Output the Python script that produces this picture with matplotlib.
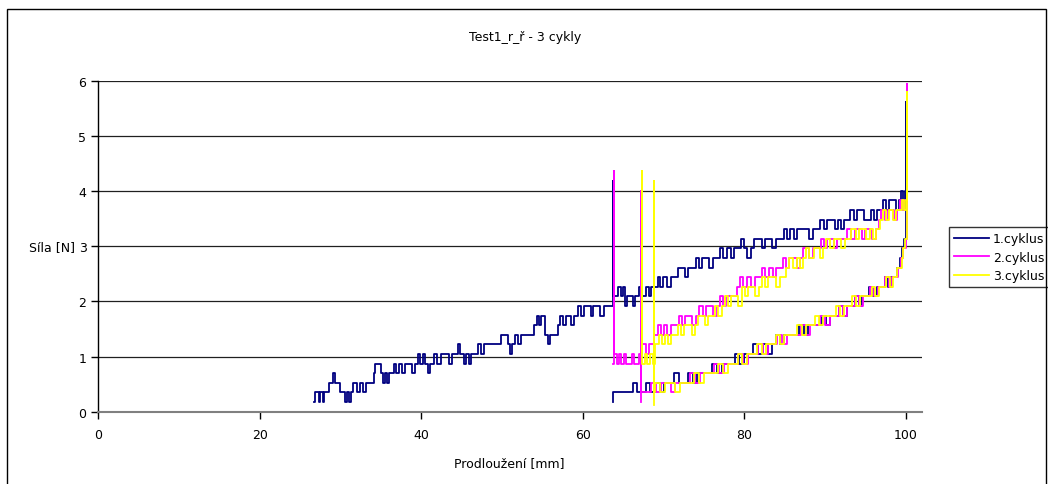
import matplotlib
matplotlib.use("Agg")
import matplotlib.pyplot as plt
from matplotlib.patches import Rectangle

# 1.cyklus: zatěžování (26.7 -> 100), pak odlehčení (100 -> 63.8)
c1_x = [26.7, 26.9, 27.2, 27.3, 27.5, 27.8, 27.9, 28.4, 28.6, 29.0, 29.1, 29.3, 29.8, 30.0,
        30.4, 30.6, 30.8, 31.0, 31.3, 31.6, 32.0, 32.4, 32.8, 33.2, 33.8, 34.1, 34.3, 34.8,
        35.0, 35.3, 35.5, 35.8, 36.0, 36.4, 36.6, 36.9, 37.2, 37.6, 38.0, 38.6, 38.9, 39.2,
        39.6, 39.9, 40.2, 40.5, 40.8, 41.1, 41.6, 42.0, 42.4, 43.0, 43.4, 43.8, 44.2, 44.5,
        44.8, 45.3, 45.6, 45.9, 46.2, 46.6, 47.0, 47.4, 47.8, 48.5, 49.0, 49.6, 49.9, 50.4,
        50.7, 51.0, 51.3, 51.6, 52.0, 52.4, 53.0, 53.6, 54.0, 54.3, 54.6, 54.9, 55.3, 55.7,
        56.0, 56.5, 56.9, 57.2, 57.6, 57.9, 58.3, 58.6, 58.9, 59.4, 59.8, 60.2, 60.6, 61.0,
        61.3, 61.8, 62.2, 62.6, 63.1, 63.5, 63.7, 63.8,
        64.2, 64.4, 64.7, 65.0, 65.2, 65.5, 65.9, 66.2, 66.5, 66.8, 67.0, 67.4, 67.8, 68.2,
        68.5, 68.9, 69.3, 69.6, 70.0, 70.5, 70.9, 71.4, 71.8, 72.3, 72.7, 73.1, 73.6, 74.0,
        74.4, 74.8, 75.3, 75.7, 76.1, 76.6, 77.0, 77.4, 77.9, 78.4, 78.8, 79.3, 79.6, 80.0,
        80.4, 80.8, 81.2, 81.7, 82.2, 82.6, 83.1, 83.5, 84.0, 84.5, 84.9, 85.3, 85.7, 86.2,
        86.6, 87.0, 87.5, 88.0, 88.5, 89.1, 89.4, 89.9, 90.3, 90.8, 91.2, 91.6, 92.0, 92.4,
        92.8, 93.1, 93.6, 94.0, 94.5, 94.9, 95.3, 95.7, 96.1, 96.5, 96.9, 97.2, 97.6, 98.0,
        98.5, 98.8, 99.2, 99.4, 99.7, 99.9, 100.0, 100.05, 100.05,
        99.8, 99.5, 99.3, 99.0, 98.6, 98.2, 97.8, 97.4, 96.9, 96.5, 96.0, 95.5, 95.0, 94.6,
        94.2, 93.7, 93.2, 92.8, 92.3, 91.8, 91.2, 90.7, 90.2, 89.6, 89.0, 88.4, 87.9, 87.4,
        86.8, 86.2, 85.6, 85.0, 84.5, 84.0, 83.4, 82.9, 82.3, 81.7, 81.1, 80.6, 80.0, 79.4,
        78.9, 78.3, 77.7, 77.2, 76.6, 76.0, 75.4, 74.8, 74.2, 73.7, 73.1, 72.5, 71.9, 71.3,
        70.7, 70.1, 69.6, 69.0, 68.4, 67.8, 67.2, 66.7, 66.2, 65.5, 64.8, 64.1, 63.9, 63.8]
c1_y = [0.17, 0.35, 0.35, 0.17, 0.35, 0.17, 0.35, 0.35, 0.52, 0.52, 0.70, 0.52, 0.52, 0.35,
        0.35, 0.17, 0.35, 0.17, 0.35, 0.52, 0.35, 0.52, 0.35, 0.52, 0.52, 0.70, 0.87, 0.87,
        0.70, 0.52, 0.70, 0.52, 0.70, 0.70, 0.87, 0.70, 0.87, 0.70, 0.87, 0.87, 0.70, 0.87,
        1.04, 0.87, 1.04, 0.87, 0.70, 0.87, 1.04, 0.87, 1.04, 1.04, 0.87, 1.04, 1.04, 1.22,
        1.04, 0.87, 1.04, 0.87, 1.04, 1.04, 1.22, 1.04, 1.22, 1.22, 1.22, 1.22, 1.39, 1.39,
        1.22, 1.04, 1.22, 1.39, 1.22, 1.39, 1.39, 1.39, 1.57, 1.74, 1.57, 1.74, 1.39, 1.22,
        1.39, 1.39, 1.57, 1.74, 1.57, 1.74, 1.74, 1.57, 1.74, 1.91, 1.74, 1.91, 1.91, 1.74,
        1.91, 1.91, 1.74, 1.91, 1.91, 1.91, 4.19, 2.09,
        2.09, 2.26, 2.09, 2.26, 1.91, 2.09, 2.09, 1.91, 2.09, 2.09, 2.26, 2.09, 2.26, 2.09,
        2.26, 2.26, 2.44, 2.26, 2.44, 2.26, 2.44, 2.44, 2.61, 2.61, 2.44, 2.61, 2.61, 2.78,
        2.61, 2.78, 2.78, 2.61, 2.78, 2.78, 2.96, 2.78, 2.96, 2.78, 2.96, 2.96, 3.13, 2.96,
        2.78, 2.96, 3.13, 3.13, 2.96, 3.13, 3.13, 2.96, 3.13, 3.13, 3.31, 3.13, 3.31, 3.13,
        3.31, 3.31, 3.31, 3.13, 3.31, 3.31, 3.48, 3.31, 3.48, 3.48, 3.31, 3.48, 3.31, 3.48,
        3.48, 3.65, 3.48, 3.65, 3.65, 3.48, 3.48, 3.65, 3.48, 3.65, 3.65, 3.83, 3.65, 3.83,
        3.83, 3.65, 3.83, 4.00, 3.83, 4.00, 4.00, 5.61, 3.13,
        2.96, 2.78, 2.61, 2.44, 2.44, 2.26, 2.44, 2.26, 2.26, 2.09, 2.26, 2.09, 2.09, 1.91,
        2.09, 1.91, 1.91, 1.74, 1.91, 1.74, 1.74, 1.57, 1.74, 1.57, 1.57, 1.57, 1.39, 1.57,
        1.39, 1.39, 1.39, 1.22, 1.39, 1.22, 1.04, 1.22, 1.04, 1.22, 1.04, 1.04, 0.87, 1.04,
        0.87, 0.87, 0.87, 0.70, 0.87, 0.70, 0.70, 0.70, 0.52, 0.70, 0.52, 0.52, 0.70, 0.52,
        0.52, 0.35, 0.52, 0.35, 0.52, 0.35, 0.35, 0.52, 0.35, 0.35, 0.35, 0.35, 0.35, 0.17]

# 2.cyklus
c2_x = [63.8, 63.85, 63.9, 64.2, 64.5, 64.8, 65.1, 65.4, 65.8, 66.1, 66.4, 66.7, 67.0, 67.4,
        67.8, 68.2, 68.5, 68.9, 69.3, 69.7, 70.1, 70.5, 71.0, 71.5, 71.9, 72.3, 72.7, 73.2,
        73.6, 74.0, 74.4, 74.9, 75.3, 75.8, 76.2, 76.6, 77.0, 77.4, 77.8, 78.3, 78.7, 79.1,
        79.5, 79.9, 80.3, 80.8, 81.3, 81.8, 82.2, 82.6, 83.1, 83.6, 84.0, 84.4, 84.8, 85.2,
        85.6, 86.1, 86.5, 86.9, 87.3, 87.7, 88.1, 88.5, 89.0, 89.5, 89.9, 90.3, 90.7, 91.1,
        91.5, 92.0, 92.4, 92.8, 93.3, 93.7, 94.2, 94.6, 95.0, 95.5, 95.9, 96.3, 96.7, 97.0,
        97.4, 97.8, 98.2, 98.6, 99.0, 99.3, 99.6, 99.8, 100.0, 100.15, 100.2,
        100.0, 99.7, 99.4, 99.1, 98.7, 98.3, 97.9, 97.5, 97.0, 96.6, 96.1, 95.6, 95.1, 94.7,
        94.2, 93.7, 93.2, 92.7, 92.2, 91.7, 91.1, 90.6, 90.0, 89.4, 88.8, 88.2, 87.7, 87.1,
        86.5, 85.9, 85.3, 84.7, 84.1, 83.5, 82.9, 82.3, 81.7, 81.1, 80.5, 79.9, 79.3, 78.7,
        78.1, 77.5, 76.9, 76.3, 75.7, 75.1, 74.5, 73.9, 73.3, 72.7, 72.1, 71.5, 70.9, 70.3,
        69.7, 69.1, 68.5, 67.9, 67.3, 67.2, 67.2]
c2_y = [0.87, 4.37, 1.04, 0.87, 1.04, 0.87, 1.04, 0.87, 0.87, 1.04, 0.87, 0.87, 1.04, 1.22,
        1.04, 1.22, 1.22, 1.39, 1.57, 1.39, 1.57, 1.39, 1.57, 1.57, 1.74, 1.57, 1.74, 1.74,
        1.57, 1.74, 1.91, 1.74, 1.91, 1.91, 1.74, 1.91, 2.09, 1.91, 2.09, 2.09, 2.09, 2.26,
        2.44, 2.26, 2.44, 2.26, 2.44, 2.44, 2.61, 2.44, 2.61, 2.44, 2.61, 2.61, 2.78, 2.61,
        2.78, 2.78, 2.61, 2.78, 2.96, 2.96, 2.78, 2.96, 2.96, 3.13, 2.96, 3.13, 3.13, 2.96,
        3.13, 3.13, 3.13, 3.31, 3.13, 3.31, 3.31, 3.13, 3.31, 3.31, 3.13, 3.31, 3.48, 3.65,
        3.48, 3.65, 3.65, 3.48, 3.65, 3.83, 3.65, 3.83, 3.83, 5.94, 3.13,
        2.96, 2.78, 2.61, 2.44, 2.44, 2.26, 2.44, 2.26, 2.26, 2.09, 2.26, 2.09, 2.09, 1.91,
        2.09, 1.91, 1.91, 1.74, 1.91, 1.74, 1.74, 1.57, 1.74, 1.57, 1.57, 1.39, 1.57, 1.39,
        1.39, 1.39, 1.22, 1.39, 1.22, 1.22, 1.04, 1.22, 1.04, 1.04, 0.87, 1.04, 0.87, 0.87,
        0.87, 0.70, 0.87, 0.70, 0.70, 0.70, 0.52, 0.70, 0.52, 0.52, 0.52, 0.35, 0.52, 0.52,
        0.35, 0.52, 0.35, 0.35, 0.35, 4.00, 0.17]

# 3.cyklus
c3_x = [67.3, 67.35, 67.4, 67.7, 68.0, 68.4, 68.7, 69.0, 69.4, 69.8, 70.2, 70.6, 71.0, 71.4,
        71.8, 72.2, 72.6, 73.0, 73.5, 73.9, 74.3, 74.7, 75.1, 75.5, 76.0, 76.4, 76.8, 77.2,
        77.6, 78.0, 78.4, 78.9, 79.3, 79.7, 80.1, 80.5, 81.0, 81.4, 81.8, 82.2, 82.6, 83.0,
        83.5, 84.0, 84.4, 84.8, 85.2, 85.6, 86.0, 86.5, 86.9, 87.3, 87.7, 88.1, 88.6, 89.0,
        89.4, 89.8, 90.2, 90.6, 91.1, 91.6, 92.0, 92.5, 92.9, 93.3, 93.8, 94.2, 94.7, 95.1,
        95.6, 96.0, 96.4, 96.8, 97.2, 97.6, 98.0, 98.4, 98.8, 99.2, 99.5, 99.8, 100.0, 100.15,
        100.2,
        99.9, 99.7, 99.5, 99.2, 98.9, 98.5, 98.1, 97.6, 97.1, 96.7, 96.2, 95.8, 95.3, 94.8,
        94.4, 93.9, 93.4, 92.9, 92.4, 91.9, 91.4, 90.8, 90.3, 89.8, 89.3, 88.8, 88.2, 87.7,
        87.2, 86.6, 86.0, 85.5, 85.0, 84.5, 83.9, 83.3, 82.7, 82.2, 81.6, 81.0, 80.4, 79.8,
        79.2, 78.6, 78.0, 77.4, 76.8, 76.2, 75.6, 75.0, 74.4, 73.8, 73.2, 72.6, 72.0, 71.4,
        70.8, 70.2, 69.6, 69.0, 68.8, 68.8, 68.85]
c3_y = [1.04, 4.37, 0.87, 1.04, 0.87, 1.04, 0.87, 1.22, 1.39, 1.22, 1.39, 1.22, 1.39, 1.39,
        1.57, 1.39, 1.57, 1.57, 1.39, 1.57, 1.74, 1.74, 1.57, 1.74, 1.74, 1.91, 1.74, 1.91,
        2.09, 1.91, 2.09, 2.09, 1.91, 2.26, 2.09, 2.26, 2.26, 2.09, 2.26, 2.44, 2.26, 2.44,
        2.44, 2.26, 2.44, 2.44, 2.61, 2.78, 2.61, 2.78, 2.61, 2.78, 2.96, 2.78, 2.96, 2.96,
        2.78, 2.96, 3.13, 2.96, 3.13, 3.13, 2.96, 3.13, 3.13, 3.31, 3.13, 3.31, 3.31, 3.13,
        3.31, 3.13, 3.31, 3.48, 3.65, 3.48, 3.65, 3.48, 3.65, 3.65, 3.83, 3.65, 3.83, 5.80,
        3.13,
        2.96, 2.78, 2.61, 2.61, 2.44, 2.26, 2.44, 2.26, 2.26, 2.09, 2.26, 2.09, 2.09, 2.09,
        1.91, 2.09, 1.91, 1.91, 1.74, 1.91, 1.74, 1.74, 1.74, 1.57, 1.74, 1.57, 1.57, 1.39,
        1.57, 1.39, 1.39, 1.39, 1.22, 1.39, 1.22, 1.22, 1.04, 1.22, 1.04, 1.04, 0.87, 1.04,
        0.87, 0.87, 0.70, 0.87, 0.70, 0.70, 0.70, 0.52, 0.70, 0.52, 0.52, 0.52, 0.35, 0.52,
        0.52, 0.35, 0.52, 0.35, 0.35, 4.19, 0.12]

series = [("1.cyklus", c1_x, c1_y, "#000080"),
          ("2.cyklus", c2_x, c2_y, "#ff00ff"),
          ("3.cyklus", c3_x, c3_y, "#ffff00")]

plt.rcParams['font.family'] = ['DejaVu Sans']
fig = plt.figure(figsize=(10.48, 4.85), dpi=100)
W, H = 1048, 485

# vnější rámeček grafu
fig.patches.append(Rectangle((7 / W, -0.01), (1046 - 7) / W, 1 - 10 / H + 0.01,
                             transform=fig.transFigure, fill=False,
                             edgecolor="black", linewidth=1.0))

ax = fig.add_axes([98.3 / W, 1 - 412.7 / H, (921.7 - 98.3) / W, (412.7 - 81.7) / H])

for name, xs, ys, col in series:
    ax.plot(xs, ys, color=col, linewidth=1.3, drawstyle="steps-post", label=name)

ax.set_xlim(0, 102)
ax.set_ylim(0, 6)
ax.set_xticks([0, 20, 40, 60, 80, 100])
ax.set_yticks([0, 1, 2, 3, 4, 5, 6])
for yv in [1, 2, 3, 4, 5, 6]:
    ax.axhline(yv, color="#202020", linewidth=0.9, zorder=0)

for s in ["top", "right"]:
    ax.spines[s].set_visible(False)
ax.spines["left"].set_color("black")
ax.spines["left"].set_linewidth(1.0)
ax.spines["bottom"].set_color("#808080")
ax.spines["bottom"].set_linewidth(1.5)
ax.tick_params(direction="out", length=5, width=1, labelsize=9, color="black")
ax.tick_params(axis="x", pad=7)

fig.text(525 / W, 1 - 38 / H, "Test1_r_ř - 3 cykly", ha="center", va="center", fontsize=9)
fig.text(509 / W, 1 - 464 / H, "Prodloužení [mm]", ha="center", va="center", fontsize=9)
fig.text(75 / W, 1 - 248 / H, "Síla [N]", ha="right", va="center", fontsize=9)

leg = ax.legend(loc="upper left", bbox_to_anchor=(949 / W, 1 - 228 / H),
                bbox_transform=fig.transFigure, frameon=True, fancybox=False,
                fontsize=9, handlelength=2.8, handletextpad=0.3, borderpad=0.4,
                labelspacing=0.45, borderaxespad=0)
leg.get_frame().set_edgecolor("black")
leg.get_frame().set_linewidth(1.0)

fig.savefig("out.png", dpi=100)
